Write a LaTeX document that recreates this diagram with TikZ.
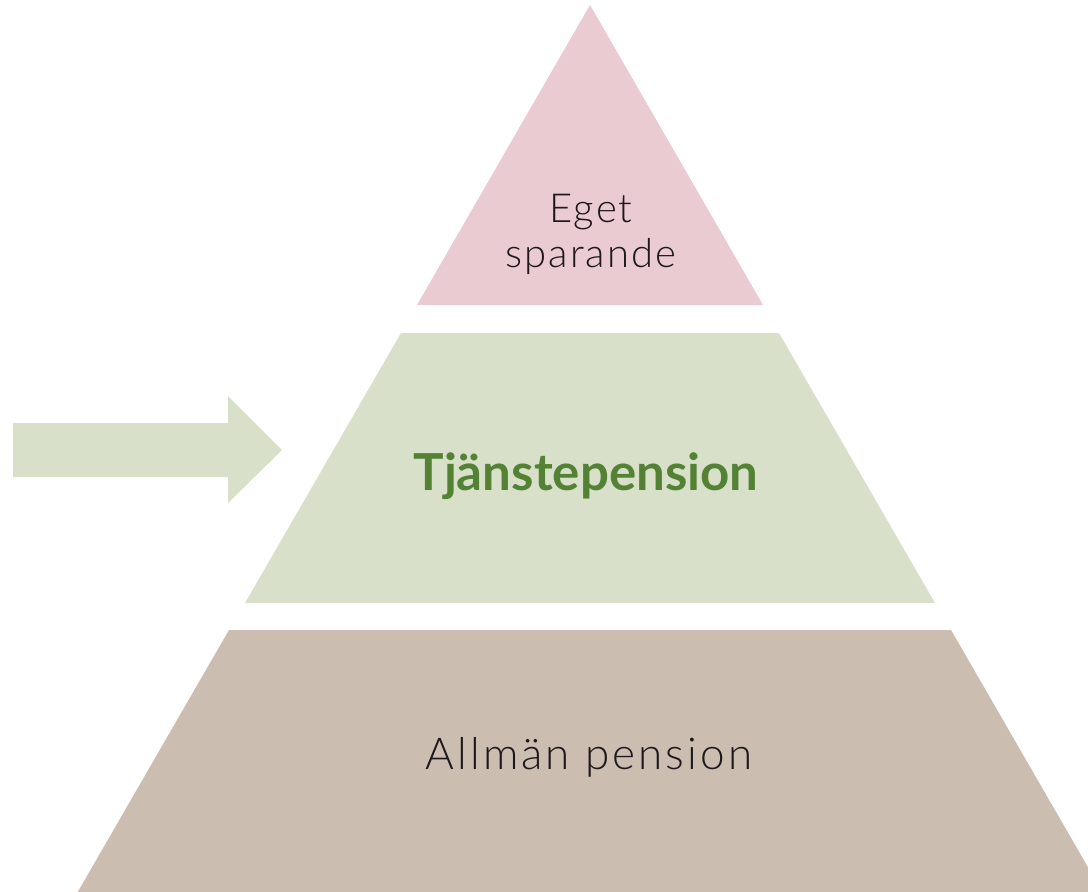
\documentclass[tikz,border=0pt]{standalone}
\usepackage{fontspec}
\setmainfont{Lato}
\newfontfamily\latolight{Lato Light}
\definecolor{pinkL}{RGB}{235,203,210}
\definecolor{greenL}{RGB}{217,224,202}
\definecolor{brownL}{RGB}{204,189,177}
\definecolor{greenT}{RGB}{84,130,53}
\definecolor{textK}{RGB}{30,24,26}
\tikzset{
  lbl/.style={text=textK, align=center, inner sep=0pt},
}
\begin{document}
\begin{tikzpicture}[x=1pt,y=-1pt]
\useasboundingbox (0,0) rectangle (1088,892);
\fill[white] (0,0) rectangle (1088,892);
\begin{scope}
\clip (0,0) rectangle (1088,892);
% top triangle
\fill[pinkL] (590,5) -- (763,305) -- (417,305) -- cycle;
% middle trapezoid
\fill[greenL] (401,333) -- (779,333) -- (935,603) -- (245,603) -- cycle;
% bottom trapezoid
\fill[brownL] (229,630) -- (951,630) -- (1104,895) -- (76,895) -- cycle;
% arrow
\fill[greenL] (13,423) -- (228,423) -- (228,396) -- (282,450) -- (228,503) -- (228,477) -- (13,477) -- cycle;
\end{scope}
\node[lbl, anchor=base, font=\latolight\fontsize{40}{45}\selectfont\addfontfeatures{LetterSpace=5}] (eget) at (591,222) {Eget};
\node[lbl, anchor=base, font=\latolight\fontsize{40}{45}\selectfont\addfontfeatures{LetterSpace=5}] (spar) at (591,267) {sparande};
\node[lbl, anchor=base, text=greenT, font=\fontsize{51}{56}\selectfont\bfseries] (tjp) at (586,490) {Tjänstepension};
\node[lbl, anchor=base, font=\latolight\fontsize{44}{50}\selectfont\addfontfeatures{LetterSpace=7}] (allm) at (589,769) {Allmän pension};
\end{tikzpicture}
\end{document}
